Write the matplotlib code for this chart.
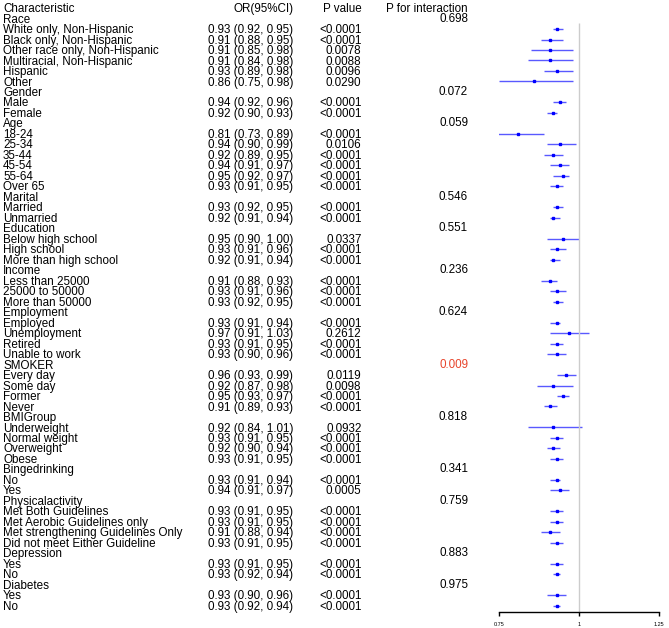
import numpy as np
import matplotlib
matplotlib.use("Agg")
import matplotlib.pyplot as plt

plt.rcParams['font.family'] = ['Liberation Sans', 'DejaVu Sans']

# group name, p for interaction, then subgroup rows
groups = ["Race", "Gender", "Age", "Marital", "Education", "Income", "Employment",
          "SMOKER", "BMIGroup", "Bingedrinking", "Physicalactivity", "Depression", "Diabetes"]
p_interaction = ["0.698", "0.072", "0.059", "0.546", "0.551", "0.236", "0.624",
                 "0.009", "0.818", "0.341", "0.759", "0.883", "0.975"]

subgroups = [
    ["White only, Non-Hispanic", "Black only, Non-Hispanic", "Other race only, Non-Hispanic",
     "Multiracial, Non-Hispanic", "Hispanic", "Other"],
    ["Male", "Female"],
    ["18-24", "25-34", "35-44", "45-54", "55-64", "Over 65"],
    ["Married", "Unmarried"],
    ["Below high school", "High school", "More than high school"],
    ["Less than 25000", "25000 to 50000", "More than 50000"],
    ["Employed", "Unemployment", "Retired", "Unable to work"],
    ["Every day", "Some day", "Former", "Never"],
    ["Underweight", "Normal weight", "Overweight", "Obese"],
    ["No", "Yes"],
    ["Met Both Guidelines", "Met Aerobic Guidelines only",
     "Met strengthening Guidelines Only", "Did not meet Either Guideline"],
    ["Yes", "No"],
    ["Yes", "No"],
]

odds = [
    [0.93, 0.91, 0.91, 0.91, 0.93, 0.86],
    [0.94, 0.92],
    [0.81, 0.94, 0.92, 0.94, 0.95, 0.93],
    [0.93, 0.92],
    [0.95, 0.93, 0.92],
    [0.91, 0.93, 0.93],
    [0.93, 0.97, 0.93, 0.93],
    [0.96, 0.92, 0.95, 0.91],
    [0.92, 0.93, 0.92, 0.93],
    [0.93, 0.94],
    [0.93, 0.93, 0.91, 0.93],
    [0.93, 0.93],
    [0.93, 0.93],
]
lower = [
    [0.92, 0.88, 0.85, 0.84, 0.89, 0.75],
    [0.92, 0.90],
    [0.73, 0.90, 0.89, 0.91, 0.92, 0.91],
    [0.92, 0.91],
    [0.90, 0.91, 0.91],
    [0.88, 0.91, 0.92],
    [0.91, 0.91, 0.91, 0.90],
    [0.93, 0.87, 0.93, 0.89],
    [0.84, 0.91, 0.90, 0.91],
    [0.91, 0.91],
    [0.91, 0.91, 0.88, 0.91],
    [0.91, 0.92],
    [0.90, 0.92],
]
upper = [
    [0.95, 0.95, 0.98, 0.98, 0.98, 0.98],
    [0.96, 0.93],
    [0.89, 0.99, 0.95, 0.97, 0.97, 0.95],
    [0.95, 0.94],
    [1.00, 0.96, 0.94],
    [0.93, 0.96, 0.95],
    [0.94, 1.03, 0.95, 0.96],
    [0.99, 0.98, 0.97, 0.93],
    [1.01, 0.95, 0.94, 0.95],
    [0.94, 0.97],
    [0.95, 0.95, 0.94, 0.95],
    [0.95, 0.94],
    [0.96, 0.94],
]
p_values = [
    ["<0.0001", "<0.0001", "0.0078", "0.0088", "0.0096", "0.0290"],
    ["<0.0001", "<0.0001"],
    ["<0.0001", "0.0106", "<0.0001", "<0.0001", "<0.0001", "<0.0001"],
    ["<0.0001", "<0.0001"],
    ["0.0337", "<0.0001", "<0.0001"],
    ["<0.0001", "<0.0001", "<0.0001"],
    ["<0.0001", "0.2612", "<0.0001", "<0.0001"],
    ["0.0119", "0.0098", "<0.0001", "<0.0001"],
    ["0.0932", "<0.0001", "<0.0001", "<0.0001"],
    ["<0.0001", "0.0005"],
    ["<0.0001", "<0.0001", "<0.0001", "<0.0001"],
    ["<0.0001", "<0.0001"],
    ["<0.0001", "<0.0001"],
]

x_ticks = [0.75, 1, 1.25]
x_ticklabels = ["0.75", "1", "1.25"]

W, H = 669, 628
fig = plt.figure(figsize=(W / 100, H / 100), dpi=100)

# pixel geometry: row i centred at 18.9 + 10.485 * i, axis line at 612 px
row_px = 10.485
row0_px = 19.6
axis_px = 612
y_bottom = (axis_px - row0_px) / row_px
y_top = -row0_px / row_px

bottom = (H - axis_px) / H
height = axis_px / H
ax_txt = fig.add_axes([0, bottom, 1, height])
ax_txt.set_xlim(0, W)
ax_txt.set_ylim(y_bottom, y_top)
ax_txt.axis("off")

ax = fig.add_axes([499 / W, bottom, 160 / W, height])
ax.set_xlim(0.75, 1.25)
ax.set_ylim(y_bottom, y_top)

fs = 8.4
col_or = 293
col_p = 361.5
col_pi = 468

# header
hy = -1.0
ax_txt.text(3, hy, "Characteristic", ha="left", va="center", fontsize=fs)
ax_txt.text(col_or, hy, "OR(95%CI)", ha="right", va="center", fontsize=fs)
ax_txt.text(col_p, hy, "P value", ha="right", va="center", fontsize=fs)
ax_txt.text(col_pi, hy, "P for interaction", ha="right", va="center", fontsize=fs)

row = 0
for g, name in enumerate(groups):
    ax_txt.text(3, row, name, ha="left", va="center", fontsize=fs)
    pcol = "#E8452C" if float(p_interaction[g]) < 0.05 else "black"
    ax_txt.text(col_pi, row - 0.1, p_interaction[g], ha="right", va="center", fontsize=fs, color=pcol)
    row += 1
    for k, sub in enumerate(subgroups[g]):
        o, lo, hi = odds[g][k], lower[g][k], upper[g][k]
        ax_txt.text(3, row, sub, ha="left", va="center", fontsize=fs)
        ax_txt.text(col_or, row, f"{o:.2f} ({lo:.2f}, {hi:.2f})", ha="right", va="center", fontsize=fs)
        ax_txt.text(col_p, row, p_values[g][k], ha="right", va="center", fontsize=fs)
        ax.hlines(row - 0.1, lo, hi, color="#0000FF", alpha=0.65, linewidth=1.0)
        ax.plot(o, row - 0.1, marker="s", color="#0000FF", markersize=1.8, linestyle="none")
        row += 1

ax.vlines(1, 0.3, y_bottom, color="#cccccc", linewidth=1.0)

for s in ["top", "right", "left"]:
    ax.spines[s].set_visible(False)
ax.spines["bottom"].set_bounds(0.75, 1.25)
ax.spines["bottom"].set_linewidth(1.0)
ax.set_yticks([])
ax.set_xticks(x_ticks)
ax.set_xticklabels(x_ticklabels)
ax.tick_params(axis="x", direction="out", length=3, width=1.0, labelsize=4, pad=4)
ax.patch.set_alpha(0)

fig.savefig("out.png", dpi=100)
